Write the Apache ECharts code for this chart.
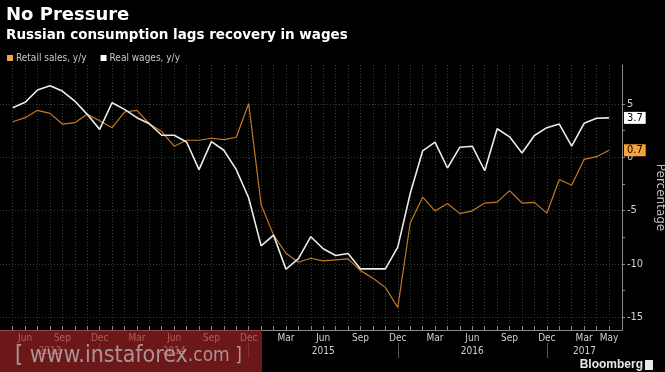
<!DOCTYPE html>
<html><head><meta charset="utf-8">
<script src="https://cdn.jsdelivr.net/npm/echarts@6/dist/echarts.min.js"></script>
<style>html,body{margin:0;padding:0;background:#000;}#c{width:665px;height:372px;}</style>
</head><body><div id="c"></div>
<script>
const months = ['2013-05','2013-06','2013-07','2013-08','2013-09','2013-10','2013-11','2013-12',
'2014-01','2014-02','2014-03','2014-04','2014-05','2014-06','2014-07','2014-08','2014-09','2014-10','2014-11','2014-12',
'2015-01','2015-02','2015-03','2015-04','2015-05','2015-06','2015-07','2015-08','2015-09','2015-10','2015-11','2015-12',
'2016-01','2016-02','2016-03','2016-04','2016-05','2016-06','2016-07','2016-08','2016-09','2016-10','2016-11','2016-12',
'2017-01','2017-02','2017-03','2017-04','2017-05'];
const retailSales = [3.34,3.72,4.41,4.12,3.12,3.25,4.03,3.43,2.78,4.25,4.41,3.15,2.42,1.04,1.6,1.6,1.79,1.66,1.88,5.05,
-4.45,-7.3,-9.0,-9.84,-9.47,-9.72,-9.62,-9.53,-10.63,-11.35,-12.2,-14.09,
-6.16,-3.74,-5.03,-4.34,-5.28,-5.02,-4.29,-4.2,-3.12,-4.29,-4.23,-5.24,-2.08,-2.62,-0.19,0.06,0.66];
const realWages = [4.65,5.16,6.31,6.72,6.22,5.28,4.03,2.62,5.12,4.5,3.72,3.15,2.07,2.07,1.44,-1.16,1.47,0.66,-1.16,-3.82,
-8.31,-7.3,-10.5,-9.5,-7.45,-8.58,-9.21,-9.02,-10.47,-10.47,-10.47,-8.43,
-3.4,0.6,1.42,-1.0,0.95,1.04,-1.26,2.68,1.92,0.41,2.05,2.78,3.12,1.04,3.19,3.66,3.7];
const seriesNames = ['Retail sales, y/y','Real wages, y/y'];
const monthNames = ['Jan','Feb','Mar','Apr','May','Jun','Jul','Aug','Sep','Oct','Nov','Dec'];
const labelMonths = ['Mar','Jun','Sep','Dec'];
const yTicks = [-15,-10,-5,0,5];
const yMinorTicks = [-12.5,-7.5,-2.5,2.5];
const years = ['2013','2014','2015','2016','2017'];

const X_MIN = -1.02, X_MAX = 49.05, Y_MIN = -16.2, Y_MAX = 8.66;
const idx = months.map((m,i)=>i);
const mName = m => monthNames[parseInt(m.slice(5,7),10)-1];
const monthLabelIdx = idx.filter(i => labelMonths.includes(mName(months[i])) || i === months.length-1);
const decIdx = idx.filter(i => mName(months[i]) === 'Dec');
const yearCenters = years.map(y => {
  const ii = idx.filter(i => months[i].startsWith(y));
  const a = Math.max(X_MIN, ii[0]-1), b = (ii[ii.length-1] === months.length-1) ? X_MAX : ii[ii.length-1];
  return (a+b)/2;
});

const chart = echarts.init(document.getElementById('c'));
const lblFont = "'DejaVu Sans Condensed','DejaVu Sans',sans-serif";
chart.setOption({
  backgroundColor: '#000',
  animation: false,
  title: [
    {text: 'No Pressure', left: 1, top: 1, textStyle: {color: '#fff', fontSize: 18, fontWeight: 'bold', fontFamily: "'DejaVu Sans',sans-serif"}},
    {text: 'Russian consumption lags recovery in wages', left: 1, top: 23, textStyle: {color: '#fff', fontSize: 13.5, fontWeight: 'bold', fontFamily: "'DejaVu Sans',sans-serif"}}
  ],
  legend: {
    left: 2, top: 48, icon: 'rect', itemWidth: 6, itemHeight: 6, itemGap: 14,
    textStyle: {color: '#c8c8c8', fontSize: 10, fontFamily: lblFont, padding: [0,0,0,-2]},
    data: seriesNames
  },
  grid: {left: 0, right: 43, top: 65, bottom: 42, containLabel: false, outerBoundsMode: 'none'},
  xAxis: [
    {type: 'value', min: X_MIN, max: X_MAX,
     axisLine: {show: true, onZero: false, lineStyle: {color: '#8a8a8a', width: 1}},
     axisTick: {show: true, inside: true, length: 4, customValues: idx, lineStyle: {color: '#8a8a8a'}},
     axisLabel: {customValues: monthLabelIdx, formatter: v => mName(months[Math.round(v)]), color: '#d0d0d0', fontSize: 10, fontFamily: lblFont, margin: 3},
     splitLine: {show: true, lineStyle: {color: '#3a3a3a', type: [1,2], width: 1}}
    },
    {type: 'value', min: X_MIN, max: X_MAX, position: 'bottom', offset: 13,
     axisLine: {show: false, onZero: false},
     axisTick: {show: true, inside: false, length: 15, customValues: decIdx, lineStyle: {color: '#555'}},
     axisLabel: {customValues: yearCenters, formatter: v => { const k = yearCenters.findIndex(c => Math.abs(c - v) < 1e-6); return k >= 0 ? years[k] : ''; }, color: '#d0d0d0', fontSize: 10, fontFamily: lblFont, margin: 3},
     splitLine: {show: false}
    }
  ],
  yAxis: [
    {type: 'value', position: 'right', min: Y_MIN, max: Y_MAX,
     name: 'Percentage', nameLocation: 'middle', nameRotate: -90, nameGap: 28,
     nameTextStyle: {color: '#c0c0c0', fontSize: 12, fontFamily: "'DejaVu Sans',sans-serif"},
     axisLine: {show: true, onZero: false, lineStyle: {color: '#8a8a8a'}},
     axisTick: {show: true, length: 3, customValues: yTicks, lineStyle: {color: '#8a8a8a'}},
     axisLabel: {customValues: yTicks, color: '#d0d0d0', fontSize: 11, fontFamily: lblFont, margin: 5},
     splitLine: {show: true, lineStyle: {color: '#3a3a3a', type: [1,2], width: 1}}
    },
    {type: 'value', position: 'right', min: Y_MIN, max: Y_MAX,
     axisLine: {show: false, onZero: false}, axisLabel: {show: false}, splitLine: {show: false},
     axisTick: {show: true, length: 3, customValues: yMinorTicks, lineStyle: {color: '#8a8a8a'}}
    }
  ],
  series: [
    {name: seriesNames[0], type: 'line', data: retailSales.map((v,i)=>[i,v]), showSymbol: false, z: 3,
     itemStyle: {color: '#f7a33d'}, lineStyle: {color: '#c27b22', width: 1.2},
     endLabel: {show: true, distance: 15, formatter: p => p.value[1].toFixed(1), backgroundColor: '#f7a33d', color: '#000', fontSize: 11, padding: [1,3,0,3], fontFamily: lblFont}
    },
    {name: seriesNames[1], type: 'line', data: realWages.map((v,i)=>[i,v]), showSymbol: false, z: 4,
     itemStyle: {color: '#ffffff'}, lineStyle: {color: '#ebebeb', width: 1.6},
     endLabel: {show: true, distance: 15, formatter: p => p.value[1].toFixed(1), backgroundColor: '#ffffff', color: '#000', fontSize: 11, padding: [1,3,0,3], fontFamily: lblFont}
    }
  ],
  graphic: [
    {type: 'rect', left: 0, top: 330, shape: {width: 262, height: 42}, style: {fill: 'rgba(160,35,35,0.68)'}, z: 100},
    {type: 'text', left: 15, top: 345, z: 101, style: {
      text: '{b|[ www.instaforex}{s|.com ]}',
      rich: {
        b: {fill: 'rgba(190,190,190,0.75)', font: "23px 'Liberation Sans Narrow','DejaVu Sans Condensed',sans-serif"},
        s: {fill: 'rgba(190,190,190,0.75)', font: "19px 'Liberation Sans Narrow','DejaVu Sans Condensed',sans-serif"}
      }}},
    {type: 'text', right: 22, top: 359, z: 101, style: {text: 'Bloomberg', fill: '#e8e8e8', font: "bold 12px 'Liberation Sans',sans-serif"}},
    {type: 'rect', right: 12, top: 360, shape: {width: 8, height: 10}, style: {fill: '#e8e8e8'}, z: 101}
  ]
});
</script></body></html>
